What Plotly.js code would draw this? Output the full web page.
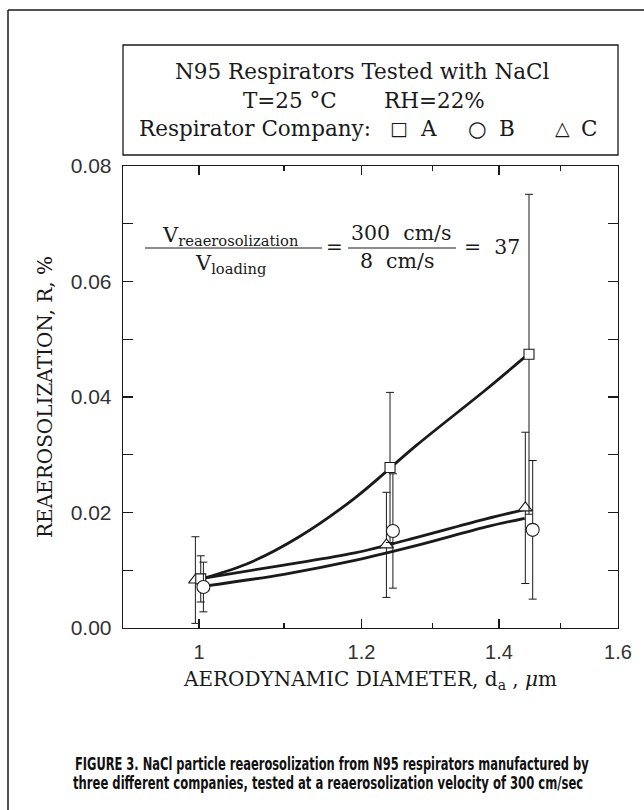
<!DOCTYPE html>
<html>
<head>
<meta charset="utf-8">
<script src="https://cdn.plot.ly/plotly-3.0.1.min.js"></script>
<style>
  html, body { margin: 0; padding: 0; background: #fff; }
  #chart { width: 644px; height: 810px; }
</style>
</head>
<body>
<div id="chart"></div>
<script>
// ---- Data ----
// Measured points (aerodynamic diameter in um, reaerosolization R in %)
const xA = [1.002, 1.239, 1.448];
const yA = [0.0085, 0.0278, 0.0474];
const errA = [0.0040, 0.0130, 0.0277];

const xB = [1.005, 1.243, 1.454];
const yB = [0.0071, 0.0168, 0.0170];
const errB = [0.0043, 0.0099, 0.0120];

const xC = [0.996, 1.234, 1.442];
const yC = [0.0083, 0.0144, 0.0208];
const errC = [0.0075, 0.0091, 0.0131];

// Fitted curves
const fitAx = [1.005, 1.060, 1.119, 1.191, 1.277, 1.380, 1.441];
const fitAy = [0.0086, 0.0114, 0.0158, 0.0225, 0.0317, 0.0413, 0.0469];
const fitBx = [1.008, 1.100, 1.191, 1.277, 1.380, 1.441];
const fitBy = [0.0073, 0.0093, 0.0117, 0.0143, 0.0175, 0.0190];
const fitCx = [1.004, 1.100, 1.191, 1.277, 1.380, 1.441];
const fitCy = [0.0086, 0.0109, 0.0130, 0.0157, 0.0189, 0.0205];

// Axis ticks
const xTickVals = [1, 1.2, 1.4, 1.6];
const xTickText = ['1', '1.2', '1.4', '1.6'];
const xMinorVals = [1.1, 1.3, 1.5];

// ---- Styling ----
const INK = '#1a1a1a';
const SERIF = 'DejaVu Serif, Liberation Serif, serif';
const SANS = 'Liberation Sans, Arial, sans-serif';
const CAPTION = 'Liberation Sans Narrow, DejaVu Sans Condensed, Arial Narrow, sans-serif';

function curve(x, y) {
  return { x: x, y: y, type: 'scatter', mode: 'lines',
    line: { color: INK, width: 2.8, shape: 'spline', smoothing: 1 },
    hoverinfo: 'skip', showlegend: false };
}
function pts(x, y, err, symbol, size) {
  return { x: x, y: y, type: 'scatter', mode: 'markers',
    error_y: { type: 'data', array: err, visible: true, color: INK, thickness: 1, width: 4 },
    marker: { symbol: symbol, size: size, color: '#fff', line: { color: INK, width: 1.1 } },
    showlegend: false };
}

const data = [
  curve(fitAx, fitAy), curve(fitBx, fitBy), curve(fitCx, fitCy),
  pts(xC, yC, errC, 'triangle-up', 12),
  pts(xA, yA, errA, 'square', 10),
  pts(xB, yB, errB, 'circle', 13)
];

// paper-coordinate helpers (plot area: x 123..618, y 166..628 px)
const PX = p => (p - 123) / 495;
const PY = p => (628 - p) / 462;

function ann(text, x, y, size, xanchor, font) {
  return { text: text, x: PX(x), y: PY(y), xref: 'paper', yref: 'paper',
    xanchor: xanchor || 'center', yanchor: 'middle', showarrow: false,
    font: { family: font || SERIF, size: size, color: INK } };
}

const HS = 21.5;
const annotations = [
  ann('N95 Respirators Tested with NaCl', 362, 72, HS),
  ann('T=25 °C', 290, 100, HS),
  ann('RH=22%', 434, 100, HS),
  ann('Respirator Company:', 137, 128, HS, 'left'),
  ann('□', 399, 128, 19),
  ann('A', 428, 128, HS),
  ann('○', 477, 128, HS),
  ann('B', 507, 128, HS),
  ann('△', 562, 128, 19),
  ann('C', 589, 128, HS),
  ann('V<sub>reaerosolization</sub>', 230, 236, 21),
  ann('V<sub>loading</sub>', 230, 264, 21),
  ann('=', 334, 247, 20),
  ann('300  cm/s', 401, 233, 20.5),
  ann('8  cm/s', 397, 261, 20.5),
  ann('=  37', 492, 247, 20.5),
  { text: '<b>FIGURE 3. NaCl particle reaerosolization from N95 respirators manufactured by</b>',
    x: PX(332), y: PY(764), xref: 'paper', yref: 'paper', showarrow: false,
    xanchor: 'center', yanchor: 'middle',
    font: { family: CAPTION, size: 17, color: '#111' } },
  { text: '<b>three different companies, tested at a reaerosolization velocity of 300 cm/sec</b>',
    x: PX(328), y: PY(783), xref: 'paper', yref: 'paper', showarrow: false,
    xanchor: 'center', yanchor: 'middle',
    font: { family: CAPTION, size: 17, color: '#111' } }
];

const shapes = [
  // outer figure frame (top and left edges)
  { type: 'line', xref: 'paper', yref: 'paper', x0: PX(8), x1: PX(660), y0: PY(10), y1: PY(10), line: { color: INK, width: 1.5 } },
  { type: 'line', xref: 'paper', yref: 'paper', x0: PX(8), x1: PX(8), y0: PY(10), y1: PY(830), line: { color: INK, width: 1.5 } },
  // header box
  { type: 'rect', xref: 'paper', yref: 'paper', x0: PX(123), x1: PX(618), y0: PY(45), y1: PY(155), line: { color: INK, width: 1.3 } },
  // fraction bars
  { type: 'line', xref: 'paper', yref: 'paper', x0: PX(145), x1: PX(322), y0: PY(248), y1: PY(248), line: { color: INK, width: 1 } },
  { type: 'line', xref: 'paper', yref: 'paper', x0: PX(348), x1: PX(456), y0: PY(248), y1: PY(248), line: { color: INK, width: 1 } }
];

const layout = {
  width: 644, height: 810,
  margin: { l: 123, r: 26, t: 166, b: 182 },
  paper_bgcolor: '#fff', plot_bgcolor: '#fff',
  showlegend: false,
  xaxis: {
    type: 'log', range: [-0.037, Math.log10(1.6)],
    tickmode: 'array', tickvals: xTickVals, ticktext: xTickText,
    ticks: 'inside', ticklen: 9, tickwidth: 1.2, tickcolor: INK,
    minor: { tickmode: 'array', tickvals: xMinorVals, ticks: 'inside', ticklen: 5, tickwidth: 1.2, tickcolor: INK, showgrid: false },
    showline: true, linecolor: INK, linewidth: 1.3, mirror: 'ticks',
    showgrid: false, zeroline: false,
    tickfont: { family: SANS, size: 20, color: '#333' },
    ticklabelstandoff: 6,
    title: { text: 'AERODYNAMIC DIAMETER, d<sub>a</sub> , <i>μ</i>m', font: { family: SERIF, size: 20, color: INK }, standoff: 9 }
  },
  yaxis: {
    range: [0, 0.08], tickmode: 'linear', tick0: 0, dtick: 0.02, tickformat: '.2f',
    ticks: 'inside', ticklen: 10, tickwidth: 1.2, tickcolor: INK,
    minor: { dtick: 0.01, ticks: 'inside', ticklen: 10, tickwidth: 1.2, tickcolor: INK, showgrid: false },
    showline: true, linecolor: INK, linewidth: 1.3, mirror: 'ticks',
    showgrid: false, zeroline: false,
    tickfont: { family: SANS, size: 21, color: '#333' },
    ticklabelstandoff: 6,
    title: { text: 'REAEROSOLIZATION, R, %', font: { family: SERIF, size: 20, color: INK }, standoff: 12 }
  },
  annotations: annotations,
  shapes: shapes
};

Plotly.newPlot('chart', data, layout, { displayModeBar: false, staticPlot: true }).then(function () {
  // The printed caption uses a bold condensed face: compress the two caption lines horizontally
  const targets = [['FIGURE 3.', 514], ['three different', 511]];
  document.querySelectorAll('.annotation-text').forEach(function (t) {
    targets.forEach(function (tg) {
      if (t.textContent.indexOf(tg[0]) === 0) {
        const w = t.getBBox().width;
        if (w > tg[1]) {
          t.style.transformBox = 'fill-box';
          t.style.transformOrigin = 'center';
          t.style.transform = 'scaleX(' + (tg[1] / w).toFixed(3) + ')';
        }
      }
    });
  });
});
</script>
</body>
</html>
